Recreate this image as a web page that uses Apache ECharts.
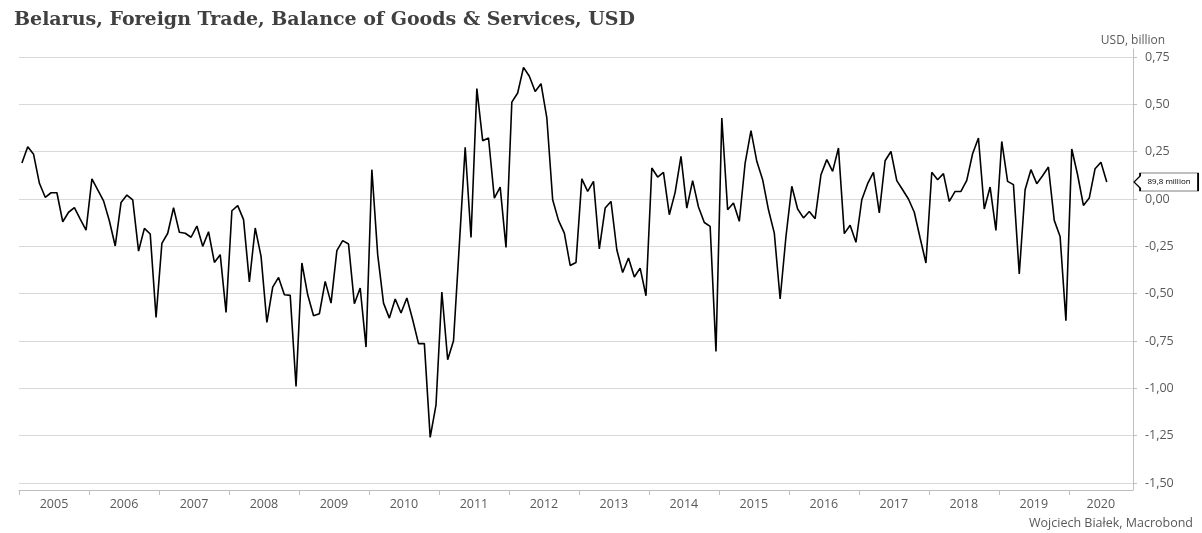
<!DOCTYPE html>
<html>
<head>
<meta charset="utf-8">
<script src="https://cdn.jsdelivr.net/npm/echarts@6/dist/echarts.min.js"></script>
<style>
  html, body { margin: 0; padding: 0; background: #fff; }
  #chart { width: 1202px; height: 533px; }
</style>
</head>
<body>
<div id="chart"></div>
<script>
// ---- data (USD billion, monthly, Jan 2005 .. Jul 2020) ----
const firstYear = 2005;
const lastMonthOnAxis = '2020-11';
const yearLabels = ['2005','2006','2007','2008','2009','2010','2011','2012','2013','2014','2015','2016','2017','2018','2019','2020'];
const balance = [
  0.19, 0.276, 0.236, 0.083, 0.009, 0.033, 0.033, -0.12, -0.07, -0.046, -0.106, -0.164,
  0.106, 0.048, -0.01, -0.116, -0.248, -0.018, 0.021, -0.005, -0.275, -0.155, -0.185, -0.625,
  -0.234, -0.181, -0.046, -0.176, -0.181, -0.202, -0.143, -0.25, -0.173, -0.335, -0.294, -0.599,
  -0.062, -0.035, -0.109, -0.438, -0.153, -0.303, -0.652, -0.465, -0.414, -0.506, -0.509, -0.99,
  -0.338, -0.506, -0.617, -0.606, -0.435, -0.55, -0.273, -0.22, -0.238, -0.553, -0.47, -0.782,
  0.155, -0.294, -0.55, -0.629, -0.528, -0.602, -0.523, -0.638, -0.764, -0.764, -1.259, -1.087,
  -0.491, -0.849, -0.749, -0.241, 0.273, -0.203, 0.583, 0.308, 0.322, 0.005, 0.063, -0.256,
  0.512, 0.56, 0.695, 0.648, 0.568, 0.609, 0.428, -0.004, -0.113, -0.18, -0.351, -0.335,
  0.106, 0.04, 0.093, -0.264, -0.048, -0.013, -0.268, -0.388, -0.312, -0.412, -0.365, -0.511,
  0.164, 0.116, 0.141, -0.083, 0.035, 0.225, -0.048, 0.097, -0.042, -0.124, -0.145, -0.805,
  0.428, -0.057, -0.021, -0.118, 0.19, 0.361, 0.199, 0.102, -0.057, -0.18, -0.528, -0.198,
  0.067, -0.053, -0.1, -0.066, -0.104, 0.128, 0.208, 0.146, 0.269, -0.183, -0.139, -0.229,
  -0.004, 0.081, 0.141, -0.074, 0.202, 0.251, 0.097, 0.049, 0.0, -0.07, -0.206, -0.338,
  0.141, 0.102, 0.134, -0.013, 0.04, 0.04, 0.098, 0.239, 0.322, -0.053, 0.063, -0.166,
  0.304, 0.093, 0.076, -0.396, 0.049, 0.155, 0.081, 0.123, 0.169, -0.113, -0.198, -0.643,
  0.264, 0.128, -0.034, 0.005, 0.16, 0.194, 0.0898
];
const lastValue = 0.0898;
const lastValueLabel = '89,8 million';
const yMin = -1.5, yMax = 0.75, yStep = 0.25;

// month categories on the axis
const months = [];
for (let y = firstYear; ; y++) {
  let done = false;
  for (let m = 1; m <= 12; m++) {
    const key = y + '-' + String(m).padStart(2, '0');
    months.push(key);
    if (key === lastMonthOnAxis) { done = true; break; }
  }
  if (done) break;
}
const seriesData = months.map((m, i) => (i < balance.length ? balance[i] : null));
const nMonths = months.length;

const labelColor = '#595959';
const gridColor = '#d9d9d9';
const axisColor = '#bfbfbf';
const font = '"Open Sans", "Noto Sans", sans-serif';

const chart = echarts.init(document.getElementById('chart'), null, { renderer: 'canvas' });
chart.setOption({
  animation: false,
  backgroundColor: '#fff',
  title: {
    text: 'Belarus, Foreign Trade, Balance of Goods & Services, USD',
    left: 9, top: 6,
    textStyle: { fontFamily: '"DejaVu Serif", serif', fontWeight: 'bold', fontSize: 19, color: '#404040' }
  },
  graphic: [{
    type: 'text', right: 9, top: 517,
    style: { text: 'Wojciech Białek, Macrobond', font: '12.5px ' + font, fill: labelColor }
  }],
  grid: [
    { left: 19, right: 69, top: 57, bottom: 50 },
    { left: 19, right: 69, top: 49, bottom: 43 }
  ],
  xAxis: [
    { type: 'category', gridIndex: 0, data: months, boundaryGap: true, show: false },
    {
      type: 'value', gridIndex: 1, min: 0, max: nMonths, interval: 12,
      axisLine: { show: true, onZero: false, lineStyle: { color: axisColor, width: 1 } },
      axisTick: { show: true, length: 5, lineStyle: { color: axisColor } },
      splitLine: { show: false },
      axisLabel: {
        show: true, align: 'left', margin: 8, showMaxLabel: false,
        color: labelColor, fontFamily: font, fontSize: 12.5,
        formatter: function (v) {
          const idx = Math.round(v / 12);
          if (v % 12 !== 0 || idx >= yearLabels.length) return '';
          const remaining = nMonths - v;
          return remaining >= 12 ? '{a|' + yearLabels[idx] + '}' : '{b|' + yearLabels[idx] + '}';
        },
        rich: {
          a: { width: 70, align: 'center', color: labelColor, fontFamily: font, fontSize: 12.5 },
          b: { width: 64, align: 'center', color: labelColor, fontFamily: font, fontSize: 12.5 }
        }
      }
    }
  ],
  yAxis: [
    {
      type: 'value', gridIndex: 0, position: 'right', min: yMin, max: yMax, interval: yStep,
      name: 'USD, billion', nameLocation: 'end', nameGap: 10,
      nameTextStyle: { color: labelColor, fontFamily: font, fontSize: 12, align: 'center' },
      axisLine: { show: false },
      axisTick: { show: true, length: 4, lineStyle: { color: axisColor } },
      splitLine: { show: true, lineStyle: { color: gridColor, width: 1 } },
      axisLabel: {
        margin: 12, color: labelColor, fontFamily: font, fontSize: 12.5,
        formatter: v => v.toFixed(2).replace('.', ',')
      }
    },
    {
      type: 'value', gridIndex: 1, position: 'right', min: 0, max: 1,
      axisLine: { show: true, onZero: false, lineStyle: { color: axisColor, width: 1 } },
      axisTick: { show: false }, axisLabel: { show: false }, splitLine: { show: false }
    }
  ],
  series: [{
    type: 'line',
    xAxisIndex: 0, yAxisIndex: 0,
    data: seriesData,
    showSymbol: false,
    symbol: 'none',
    connectNulls: false,
    lineStyle: { color: '#000', width: 1.6 },
    markPoint: {
      silent: true,
      symbol: 'path://M0,9 L6,3 L6,0 L64,0 L64,18 L6,18 L6,15 Z',
      symbolSize: [64, 18],
      symbolOffset: [36, 0],
      itemStyle: { color: '#fff', borderColor: '#000', borderWidth: 1 },
      label: {
        show: true, position: 'inside', offset: [3, 0],
        formatter: lastValueLabel, color: '#000', fontSize: 8, fontFamily: font
      },
      data: [{ coord: [lastMonthOnAxis, lastValue] }]
    }
  }]
});
</script>
</body>
</html>
